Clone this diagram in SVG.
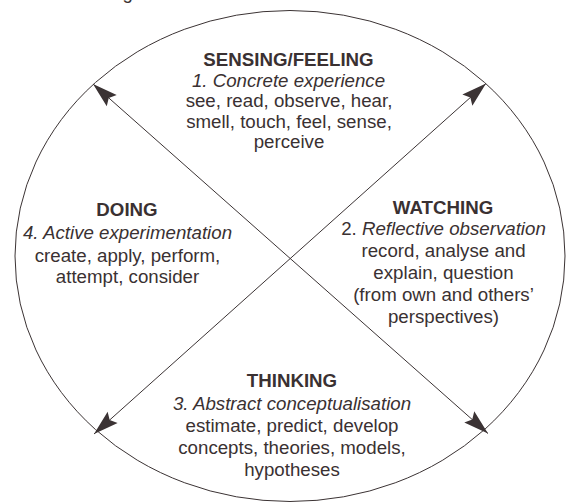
<svg xmlns="http://www.w3.org/2000/svg" width="570" height="502" viewBox="0 0 570 502">
  <style>
    .ln { stroke: #3b3334; stroke-width: 1; fill: none; }
    text { font-family: "Liberation Sans", Arial, sans-serif; font-size: 18.7px; fill: #3a3132; text-anchor: middle; }
    .hd { font-weight: bold; }
    .it { font-style: italic; }
  </style>
  <defs>
    <marker id="head" viewBox="-26 -8 27 16" refX="0" refY="0" markerWidth="27" markerHeight="16" markerUnits="userSpaceOnUse" orient="auto-start-reverse">
      <path d="M0,0 L-25,-7.5 L-21,0 L-25,7.5 Z" fill="#3b3334"/>
    </marker>
  </defs>
  <rect width="570" height="502" fill="#ffffff"/>

  <!-- caption running off the top edge -->
  <text x="107" y="-1" style="text-anchor:start">Figure</text>

  <!-- the learning cycle -->
  <ellipse id="cycle" class="ln" cx="290" cy="256" rx="275" ry="245.5"/>

  <g id="connectors">
    <line class="ln" x1="93" y1="84" x2="488" y2="433.5" marker-start="url(#head)" marker-end="url(#head)"/>
    <line class="ln" x1="486" y1="83.5" x2="94" y2="434" marker-start="url(#head)" marker-end="url(#head)"/>
  </g>

  <g id="node-sensing">
    <text class="hd" x="288.5" y="66">SENSING/FEELING</text>
    <text class="it" x="288.5" y="86.5">1. Concrete experience</text>
    <text x="289" y="107">see, read, observe, hear,</text>
    <text x="289" y="127.5">smell, touch, feel, sense,</text>
    <text x="289" y="148">perceive</text>
  </g>

  <g id="node-watching">
    <text class="hd" x="443" y="213.5">WATCHING</text>
    <text x="443.5" y="235.3"><tspan>2. </tspan><tspan class="it">Reflective observation</tspan></text>
    <text x="443.5" y="257.2">record, analyse and</text>
    <text x="443.5" y="279">explain, question</text>
    <text x="443.5" y="300.8">(from own and others’</text>
    <text x="443.5" y="322.7">perspectives)</text>
  </g>

  <g id="node-thinking">
    <text class="hd" x="292" y="386.7">THINKING</text>
    <text class="it" x="292" y="409.5">3. Abstract conceptualisation</text>
    <text x="292" y="431.5">estimate, predict, develop</text>
    <text x="292" y="453.5">concepts, theories, models,</text>
    <text x="292" y="475.5">hypotheses</text>
  </g>

  <g id="node-doing">
    <text class="hd" x="127" y="215.7">DOING</text>
    <text class="it" x="127.5" y="239.3">4. Active experimentation</text>
    <text x="127.5" y="261.7">create, apply, perform,</text>
    <text x="127.5" y="283">attempt, consider</text>
  </g>
</svg>
